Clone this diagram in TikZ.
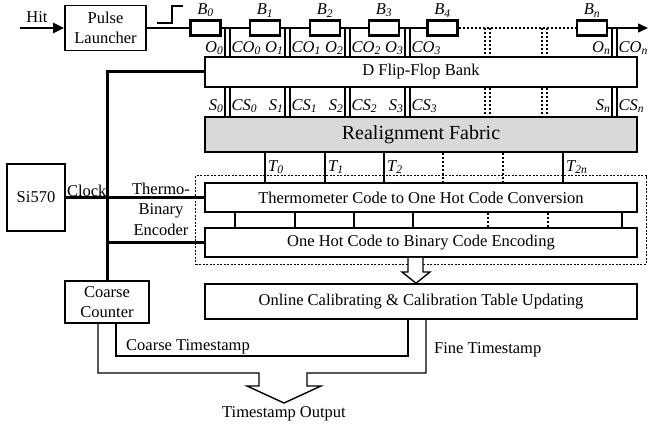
\documentclass[tikz,border=0pt]{standalone}
\usepackage{fontspec}
\setmainfont{Liberation Serif}
\usetikzlibrary{positioning, fit, arrows.meta}

\newcommand{\sublbl}[2]{\textit{#1\textsubscript{#2}}}

\begin{document}
\begin{tikzpicture}[x=1pt, y=-1pt,
  % Base node styles
  box/.style={rectangle, draw=black, line width=1.6pt, align=center, inner sep=0pt, font=\fontsize{16.5}{19.5}\selectfont},
  wide/.style={box, minimum width=432pt, minimum height=30pt},
  res/.style={rectangle, draw=black, line width=2.4pt, minimum width=30pt, minimum height=15pt, inner sep=0pt},
  % Text styles
  lbl/.style={inner sep=1pt, font=\fontsize{16.5}{19.5}\selectfont},
  txt/.style={inner sep=1pt, align=center, font=\fontsize{16.5}{20.5}\selectfont},
  % Line styles
  wire/.style={line width=1.4pt},
  tap/.style={line width=1.3pt},
  dashline/.style={line width=1.3pt, dash pattern=on 2.5pt off 1.5pt},
  bus/.style={line width=3pt},
  encbox/.style={rectangle, draw=black, line width=1.2pt, dash pattern=on 2pt off 1.5pt, inner xsep=8.5pt, inner ysep=6.5pt},
  blockarrow/.style={line width=1.4pt, fill=white, line join=miter}
]
\useasboundingbox (0,0) rectangle (649,428);

% ==========================================
% 1. Pulse launcher and delay chain
% ==========================================
\node[box, minimum width=81pt, minimum height=45pt] (launcher) at (105.5,28) {Pulse\\Launcher};
\coordinate (hit) at (20,28);
\draw[line width=2.4pt, -{Triangle[length=11pt, width=10pt]}] (hit) -- (launcher.west);
\node[lbl] (hitlbl) at (37,17) {Hit};

% step symbol
\draw[wire] (157,23) -- (172,23) -- (172,6) -- (183,6);

\node[res] (b0) at (205.5,28) {};
\node[res] (b1) at (265,28) {};
\node[res] (b2) at (325,28) {};
\node[res] (b3) at (384,28) {};
\node[res] (b4) at (442.5,28) {};
\node[res] (bn) at (592,28) {};
\node[lbl, above=1pt of b0] {\sublbl{B}{0}};
\node[lbl, above=1pt of b1] {\sublbl{B}{1}};
\node[lbl, above=1pt of b2] {\sublbl{B}{2}};
\node[lbl, above=1pt of b3] {\sublbl{B}{3}};
\node[lbl, above=1pt of b4] {\sublbl{B}{4}};
\node[lbl, above=1pt of bn] {\sublbl{B}{n}};

\coordinate (chainend) at (648,28);
\draw[wire] (launcher.east) -- (b0.west);
\draw[wire] (b0) -- (b1);
\draw[wire] (b1) -- (b2);
\draw[wire] (b2) -- (b3);
\draw[wire] (b3) -- (b4);
\draw[dashline] (b4) -- (bn);
\draw[wire, -{Triangle[length=10pt, width=9pt]}] (bn.east) -- (chainend);

% ==========================================
% 2. Flip-flop bank and realignment
% ==========================================
\node[wide] (dff) at (421,72) {D Flip-Flop Bank};
\node[wide, fill=gray!30, minimum height=35pt, font=\fontsize{20}{24}\selectfont] (realign) at (421,134.5) {Realignment Fabric};

\foreach \xa/\xb/\i in {225/230/0, 285/290/1, 345/350/2, 405/410/3, 612/617/n} {
  \draw[tap] (\xa,0 |- b0) -- (\xa,0 |- dff.north);
  \draw[tap] (\xb,0 |- b0) -- (\xb,0 |- dff.north);
  \draw[tap] (\xa,0 |- dff.south) -- (\xa,0 |- realign.north);
  \draw[tap] (\xb,0 |- dff.south) -- (\xb,0 |- realign.north);
  \node[lbl, anchor=east] at (\xa-0.5,48) {\sublbl{O}{\i}};
  \node[lbl, anchor=west] at (\xb+0.5,48) {\sublbl{CO}{\i}};
  \node[lbl, anchor=east] at (\xa-0.5,106) {\sublbl{S}{\i}};
  \node[lbl, anchor=west] at (\xb+0.5,106) {\sublbl{CS}{\i}};
}
\foreach \xa/\xb in {485/490, 542/547} {
  \draw[dashline] (\xa,0 |- b0) -- (\xa,0 |- dff.north);
  \draw[dashline] (\xb,0 |- b0) -- (\xb,0 |- dff.north);
  \draw[dashline] (\xa,0 |- dff.south) -- (\xa,0 |- realign.north);
  \draw[dashline] (\xb,0 |- dff.south) -- (\xb,0 |- realign.north);
}

% ==========================================
% 3. Thermometer-to-binary encoder
% ==========================================
\node[wide, minimum height=29pt] (thermo) at (421,197.5) {Thermometer Code to One Hot Code Conversion};
\node[wide, minimum height=29pt] (onehot) at (421,242.5) {One Hot Code to Binary Code Encoding};
\node[encbox, fit=(thermo) (onehot)] (enc) {};
\node[txt] (enclbl) at (161,209) {Thermo-\\Binary\\Encoder};

\foreach \x/\t in {265/0, 325/1, 384/2, 563/2n} {
  \draw[tap] (\x,0 |- realign.south) -- (\x,0 |- thermo.north);
  \node[lbl, anchor=west] at (\x+2,167) {\sublbl{T}{\t}};
}
\foreach \x in {443, 503}
  \draw[dashline] (\x,0 |- realign.south) -- (\x,0 |- thermo.north);

\foreach \x in {235, 295, 354, 413, 622}
  \draw[tap] (\x,0 |- thermo.south) -- (\x,0 |- onehot.north);
\foreach \x in {488, 548}
  \draw[dashline] (\x,0 |- thermo.south) -- (\x,0 |- onehot.north);

% ==========================================
% 4. Calibration, clock and counter
% ==========================================
\node[wide, minimum height=35pt] (calib) at (421,301.5) {Online Calibrating \& Calibration Table Updating};
\node[box, minimum width=58pt, minimum height=67pt] (si) at (36,197.5) {Si570};
\node[box, minimum width=84pt, minimum height=42pt] (coarse) at (107,302) {Coarse\\Counter};

% block arrow into calibration
\draw[blockarrow] (408,0 |- onehot.south) -- (408,272) -- (402,272) -- (416,0 |- calib.north)
  -- (430,272) -- (423,272) -- (423,0 |- onehot.south);

% clock distribution
\draw[bus] (si) -- (thermo);
\node[lbl, anchor=south west] (clocklbl) at (si.east) {Clock};
\draw[bus] (dff.west) -| (coarse.north);
\draw[bus] (onehot.west) -- (onehot.west -| coarse.north);

% ==========================================
% 5. Timestamp outputs
% ==========================================
\draw[wire] ([xshift=9pt]coarse.south) |- (408,356) -- (408,0 |- calib.south);
\node[lbl, anchor=west] (ctslbl) at (125,347) {Coarse Timestamp};
\node[lbl, anchor=west] (ftslbl) at (433,350) {Fine Timestamp};

\coordinate (outtip) at (284,403);
\draw[blockarrow, fill=none] ([xshift=-9pt]coarse.south) |- (259,373) -- (259,386) -- (247,386) -- (outtip)
  -- (321,386) -- (307,386) -- (307,373) -| (426,0 |- calib.south);
\node[lbl, below=2pt of outtip] (outlbl) {Timestamp Output};
\end{tikzpicture}
\end{document}
